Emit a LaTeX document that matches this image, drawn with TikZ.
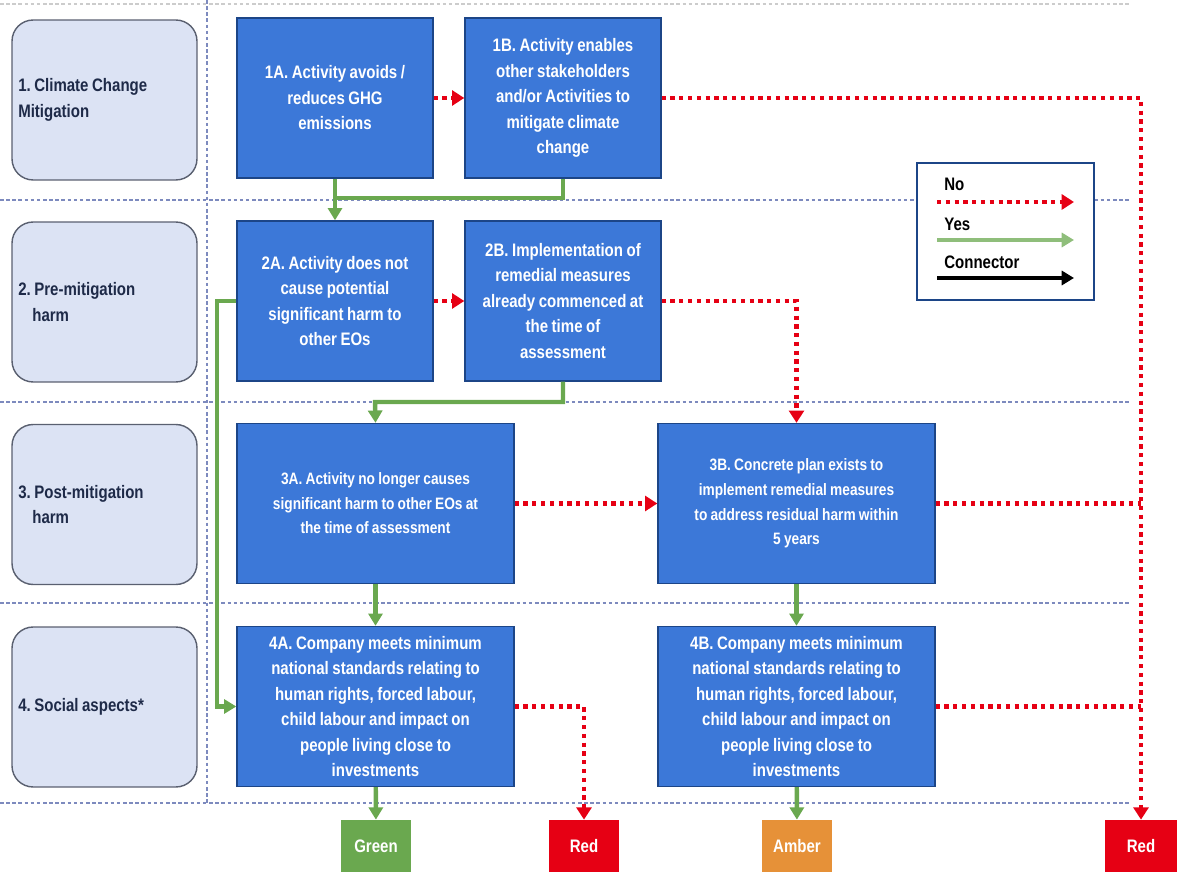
\documentclass[tikz,border=0pt]{standalone}
\usepackage{fontspec}
\setmainfont{Liberation Sans}[FakeStretch=0.83,WordSpace=0.85]
\usetikzlibrary{arrows.meta}

\definecolor{boxblue}{RGB}{60,120,216}
\definecolor{boxedge}{RGB}{28,69,135}
\definecolor{rowfill}{RGB}{220,227,244}
\definecolor{rowedge}{RGB}{90,96,112}
\definecolor{rowtext}{RGB}{30,42,72}
\definecolor{yesgreen}{RGB}{106,168,79}
\definecolor{nored}{RGB}{230,0,20}
\definecolor{ambr}{RGB}{230,145,56}
\definecolor{gridc}{RGB}{125,138,190}

\begin{document}
\frenchspacing
\begin{tikzpicture}[
  x=0.02cm,y=-0.02cm,
  font=\fontsize{10.3}{14.5}\selectfont\bfseries,
  row/.style={draw=rowedge,fill=rowfill,rounded corners=12pt,line width=0.8pt,
              minimum width=3.7cm,minimum height=3.2cm,text width=3.45cm,
              align=flush left,text=rowtext},
  crit/.style={draw=boxedge,fill=boxblue,line width=0.8pt,text=white,
               align=center,minimum height=3.2cm},
  outcome/.style={text=white,minimum width=1.4cm,minimum height=1.04cm},
  gridline/.style={gridc,dash pattern=on 2pt off 1.5pt,line width=0.9pt},
  no/.style={-{Triangle[length=7pt,width=8.5pt]},nored,line width=2.6pt,
             dash pattern=on 2.4pt off 2.6pt},
  noline/.style={nored,line width=2.6pt,dash pattern=on 2.4pt off 2.6pt},
  yes/.style={-{Triangle[length=7pt,width=8pt]},yesgreen,line width=2.5pt},
  yesline/.style={yesgreen,line width=2.5pt},
]
\useasboundingbox (0,0) rectangle (1177,874);

% swimlane grid
\draw[gridline,gray!40] (0,4) -- (1130,4);
\foreach \yy in {200,402,603,803}
  \draw[gridline] (0,\yy) -- (1130,\yy);
\draw[gridline] (207,0) -- (207,803);

% lanes
\node[row] (lane1) at (104.5,100) {1. Climate Change\\Mitigation};
\node[row] (lane2) at (104.5,302) {2. Pre-mitigation\\\hspace*{8pt}harm};
\node[row] (lane3) at (104.5,504.5) {3. Post-mitigation\\\hspace*{8pt}harm};
\node[row] (lane4) at (104.5,707) {4. Social aspects*};

% criteria
\node[crit,minimum width=3.92cm] (c1a) at (335,98)
  {1A. Activity avoids /\\reduces GHG\\emissions};
\node[crit,minimum width=3.92cm] (c1b) at (563,98)
  {1B. Activity enables\\other stakeholders\\and/or Activities to\\mitigate climate\\change};
\node[crit,minimum width=3.92cm] (c2a) at (335,301)
  {2A. Activity does not\\cause potential\\significant harm to\\other EOs};
\node[crit,minimum width=3.92cm] (c2b) at (563,301)
  {2B. Implementation of\\remedial measures\\already commenced at\\the time of\\assessment};
\node[crit,minimum width=5.54cm,font=\fontsize{9.4}{14}\selectfont\bfseries] (c3a) at (375.5,503.5)
  {3A. Activity no longer causes\\significant harm to other EOs at\\the time of assessment};
\node[crit,minimum width=5.54cm,font=\fontsize{9.4}{14}\selectfont\bfseries] (c3b) at (796.5,503.5)
  {3B. Concrete plan exists to\\implement remedial measures\\to address residual harm within\\5 years};
\node[crit,minimum width=5.54cm] (c4a) at (375.5,706.5)
  {4A. Company meets minimum\\national standards relating to\\human rights, forced labour,\\child labour and impact on\\people living close to\\investments};
\node[crit,minimum width=5.54cm] (c4b) at (796.5,706.5)
  {4B. Company meets minimum\\national standards relating to\\human rights, forced labour,\\child labour and impact on\\people living close to\\investments};

% outcomes
\node[outcome,fill=yesgreen] (green) at (376,846) {Green};
\node[outcome,fill=nored] (red1) at (584,846) {Red};
\node[outcome,fill=ambr] (amber) at (797,846) {Amber};
\node[outcome,fill=nored,minimum width=1.44cm] (red2) at (1141,846) {Red};

% legend
\node[draw=boxedge,fill=white,line width=0.6pt,minimum width=3.54cm,
      minimum height=2.74cm] (legend) at (1005.5,231.5) {};
\node[anchor=west,inner sep=0pt] (lno) at (944,184) {No};
\node[anchor=west,inner sep=0pt] (lyes) at (944,224) {Yes};
\node[anchor=west,inner sep=0pt] (lcon) at (944,262) {Connector};
\coordinate (noA) at (937,202);   \coordinate (noB) at (1074,202);
\coordinate (yesA) at (937,240);  \coordinate (yesB) at (1074,240);
\coordinate (conA) at (937,278);  \coordinate (conB) at (1074,278);
\draw[no] (noA) -- (noB);
\draw[yes,yesgreen!75] (yesA) -- (yesB);
\draw[-{Triangle[length=7pt,width=8pt]},line width=2.5pt] (conA) -- (conB);

% yes paths
\coordinate (j1) at (335,198);
\coordinate (j2) at (375,402);
\coordinate (j3) at (217,301);
\draw[yes] (c1a) -- (c2a);
\draw[yesline] (c1b.south) |- (j1);
\draw[yes] (c2b.south) |- (j2) -- (c3a.north);
\draw[yes] (c2a.west) -- (j3) |- (c4a.west);
\draw[yes] (c3a) -- (c4a);
\draw[yes] (c3b) -- (c4b);
\draw[yes] (c4a) -- (green);
\draw[yes] (c4b) -- (amber);

% no paths
\draw[no] (c1a) -- (c1b);
\draw[no] (c1b.east) -| (red2.north);
\draw[no] (c2a) -- (c2b);
\draw[no] (c2b.east) -| (c3b.north);
\draw[no] (c3a) -- (c3b);
\draw[noline] (c3b.east) -- (c3b.east -| red2.north);
\draw[no] (c4a.east) -| (red1.north);
\draw[noline] (c4b.east) -- (c4b.east -| red2.north);

\end{tikzpicture}
\end{document}
